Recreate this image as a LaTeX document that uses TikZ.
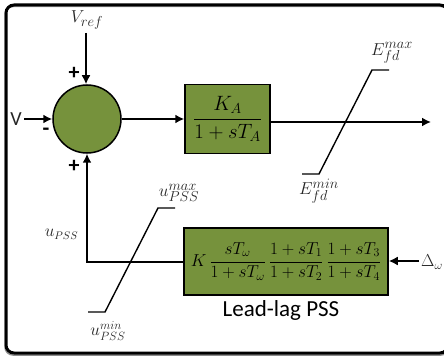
\documentclass[tikz,border=0pt]{standalone}
\usepackage{fontspec}
\setmainfont{Carlito}
\usepackage{tikz}
\usetikzlibrary{arrows.meta}
\definecolor{blockgreen}{HTML}{76923C}
\tikzset{
  block/.style={draw=black, line width=1.5pt, fill=blockgreen, inner sep=0pt, text=black},
  wire/.style={line width=1.7pt, -{Latex[length=9pt,width=9pt]}},
  limiter/.style={line width=1.4pt},
  lab/.style={inner sep=0pt, text=black!85},
  mathlab/.style={lab, font=\fontsize{19}{20}\selectfont},
  signlab/.style={lab, text=black, font=\bfseries\fontsize{22}{22}\selectfont},
}
\begin{document}
\begin{tikzpicture}[x=1pt,y=-1pt]
\useasboundingbox (0,0) rectangle (444,358);
\draw[black!45, line width=1.5pt, rounded corners=8pt] (5,6.5) rectangle (449,355);
\draw[black, line width=3pt, rounded corners=8pt] (6,5) rectangle (448,353);
\node[block, circle, minimum size=68pt] (sum) at (87,119) {};
\node[block, minimum width=85pt, minimum height=69pt] (kablock) at (227.5,119)
  {\fontsize{22}{24}\selectfont$\displaystyle\frac{K_A}{1+sT_A}$};
\node[block, minimum width=204pt, minimum height=67pt] (pssblock) at (286,261.5)
  {\fontsize{17.5}{20}\selectfont$\displaystyle K\,\frac{sT_\omega}{1+sT_\omega}\,\frac{1+sT_1}{1+sT_2}\,\frac{1+sT_3}{1+sT_4}$};
\coordinate (vrefend) at (86,33);
\coordinate (vend) at (24,119);
\coordinate (efdend) at (431,122);
\coordinate (deltaend) at (419,261);
\coordinate (pssknee) at (87,262);
\draw[wire] (vrefend) -- (sum.north -| vrefend);
\draw[wire] (vend) -- (sum.west);
\draw[wire] (sum.east) -- (kablock.west);
\draw[wire] (kablock.east |- efdend) -- (efdend);
\draw[wire] (deltaend) -- (pssblock.east |- deltaend);
\draw[wire] (pssblock.west |- pssknee) -- (pssknee) -- (sum.south);
% limiters
\draw[limiter] (389,70) -- (372,70) -- (319,174) -- (302,174);
\draw[limiter] (175,208) -- (158,208) -- (105,312) -- (88,312);
% labels
\node[lab, font=\fontsize{20}{20}\selectfont] (vlab) at (16,119) {V};
\node[signlab] (plustop) at (74,73) {+};
\node[signlab] (plusbot) at (74,166) {+};
\node[signlab] (minus) at (46,132) {-};
\node[mathlab] (vreflab) at (87,20) {$V_{ref}$};
\node[mathlab] (efdmax) at (392,53) {$E_{fd}^{max}$};
\node[mathlab] (efdmin) at (319,191) {$E_{fd}^{min}$};
\node[mathlab] (umax) at (179,193) {$u_{PSS}^{max}$};
\node[mathlab, font=\fontsize{18}{20}\selectfont] (umin) at (108,331) {$u_{PSS}^{min}$};
\node[lab, font=\fontsize{16}{20}\selectfont] (upss) at (61.5,234) {$u_{PSS}$};
\node[lab, font=\fontsize{18}{20}\selectfont] (deltalab) at (432,262) {$\Delta_\omega$};
\node[inner sep=0pt, font=\fontsize{23}{24}\selectfont] (psslab) at (281,310) {Lead-lag PSS};
\end{tikzpicture}
\end{document}
